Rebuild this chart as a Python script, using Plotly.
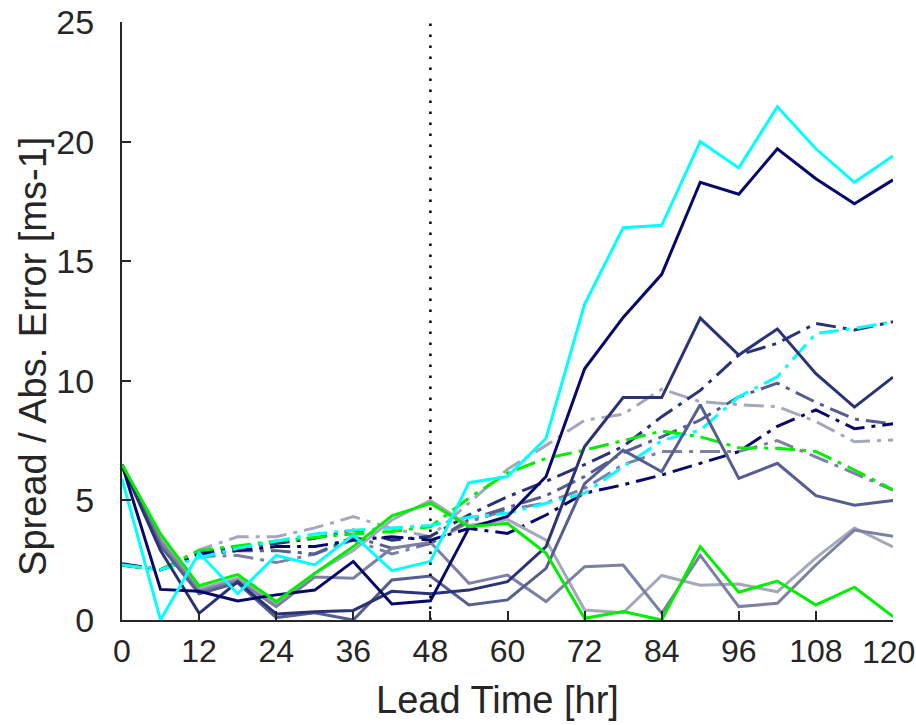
import plotly.graph_objects as go

lead_time = list(range(0, 121, 6))
x_ticks = [0, 12, 24, 36, 48, 60, 72, 84, 96, 108, 120]
y_ticks = [0, 5, 10, 15, 20, 25]
ref_time = 48

# Absolute errors (solid lines)
cyan_err = [5.9, 0.0, 2.8, 1.1, 2.7, 2.3, 3.55, 2.06, 2.45, 5.74, 6.0, 7.6, 13.2, 16.4, 16.5, 20.0, 18.9, 21.46, 19.7, 18.3, 19.4]
navy_err = [6.5, 1.28, 1.2, 0.8, 1.05, 1.25, 2.45, 0.67, 0.8, 3.85, 4.33, 6.0, 10.5, 12.65, 14.45, 18.3, 17.8, 19.7, 18.45, 17.4, 18.4]
darkslate_err = [6.5, 2.9, 0.28, 1.6, 0.25, 0.35, 0.4, 1.2, 1.1, 1.25, 1.6, 3.07, 7.25, 9.3, 9.3, 12.62, 11.08, 12.17, 10.3, 8.9, 10.15]
slate_err = [6.5, 3.1, 1.1, 1.55, 0.1, 0.3, 0.0, 1.67, 1.84, 0.63, 0.84, 2.16, 5.7, 7.1, 6.2, 9.0, 5.92, 6.55, 5.2, 4.8, 5.0]
greyblue_err = [6.5, 3.3, 1.2, 1.65, 0.56, 1.8, 1.75, 3.0, 3.25, 1.53, 1.88, 0.77, 2.23, 2.3, 0.28, 2.7, 0.56, 0.7, 2.3, 3.76, 3.5]
lightgrey_err = [6.5, 3.5, 1.3, 1.75, 0.7, 1.95, 2.9, 4.18, 5.0, 3.95, 4.2, 3.34, 0.42, 0.3, 1.86, 1.45, 1.5, 1.18, 2.6, 3.85, 3.06]
green_err = [6.5, 3.6, 1.43, 1.9, 0.77, 1.95, 3.07, 4.35, 4.88, 3.9, 4.04, 2.79, 0.07, 0.35, 0.0, 3.07, 1.16, 1.63, 0.63, 1.37, 0.14]

# Ensemble spread (dash-dot lines)
cyan_spr = [2.3, 2.1, 2.6, 3.0, 3.3, 3.6, 3.75, 3.85, 3.95, 4.3, 4.46, 4.88, 5.3, 6.4, 7.5, 7.94, 9.33, 10.17, 11.98, 12.19, 12.47]
navy_spr = [2.35, 2.1, 2.75, 2.9, 3.07, 3.07, 3.34, 3.48, 3.34, 3.83, 3.62, 4.39, 5.3, 5.65, 6.06, 6.55, 7.04, 8.1, 8.78, 8.0, 8.2]
darkslate_spr = [2.3, 2.1, 2.8, 3.05, 3.2, 3.42, 3.76, 3.34, 3.5, 4.4, 5.15, 5.8, 6.5, 7.25, 8.5, 9.6, 11.08, 11.57, 12.4, 12.12, 12.47]
slate_spr = [2.3, 2.1, 2.7, 2.9, 2.9, 2.76, 3.48, 3.0, 3.2, 4.2, 4.7, 5.2, 6.0, 7.0, 7.66, 8.36, 9.33, 9.9, 9.1, 8.4, 8.2]
greyblue_spr = [2.3, 2.1, 2.65, 2.7, 2.4, 2.76, 3.34, 2.76, 3.2, 4.1, 4.6, 4.9, 5.5, 6.5, 7.04, 7.04, 7.04, 7.5, 6.83, 6.13, 5.43]
lightgrey_spr = [2.3, 2.1, 2.93, 3.48, 3.48, 3.85, 4.32, 3.83, 3.48, 4.9, 6.3, 7.3, 8.35, 8.6, 9.65, 9.13, 9.0, 8.92, 8.3, 7.45, 7.53]
green_spr = [2.3, 2.1, 2.9, 3.1, 3.3, 3.45, 3.6, 3.7, 3.9, 5.1, 6.14, 6.76, 7.1, 7.5, 7.9, 7.66, 7.2, 7.18, 7.05, 6.27, 5.45]

series_colors = {
    "cyan": "#00FFFF",
    "navy": "#06096B",
    "darkslate": "#2B3378",
    "slate": "#565E8F",
    "greyblue": "#7C81A3",
    "lightgrey": "#A5A7BA",
    "green": "#00EE00",
}

errors = {
    "cyan": cyan_err, "navy": navy_err, "darkslate": darkslate_err, "slate": slate_err,
    "greyblue": greyblue_err, "lightgrey": lightgrey_err, "green": green_err,
}
spreads = {
    "cyan": cyan_spr, "navy": navy_spr, "darkslate": darkslate_spr, "slate": slate_spr,
    "greyblue": greyblue_spr, "lightgrey": lightgrey_spr, "green": green_spr,
}

fig = go.Figure()
order = ["lightgrey", "greyblue", "slate", "darkslate", "navy", "green", "cyan"]
for name in order:
    fig.add_trace(go.Scatter(x=lead_time, y=spreads[name], mode="lines",
                             line=dict(color=series_colors[name], width=3, dash="20px,7px,4px,7px"),
                             showlegend=False, name=name + " spread"))
for name in order:
    fig.add_trace(go.Scatter(x=lead_time, y=errors[name], mode="lines",
                             line=dict(color=series_colors[name], width=3),
                             showlegend=False, name=name + " error"))

fig.add_trace(go.Scatter(x=[ref_time, ref_time], y=[0, 25], mode="lines",
                         line=dict(color="black", width=2.5, dash="2.5px,8.5px"),
                         showlegend=False, hoverinfo="skip"))

axis_color = "#262626"
font_family = "Liberation Sans, Arial, Helvetica, sans-serif"

# the last x tick label sits at the page edge; draw it as a right-anchored annotation at x=120
x_ticktext = [str(v) for v in x_ticks]
last_label = x_ticktext[-1]
x_ticktext[-1] = ""

fig.update_layout(
    width=916, height=725,
    margin=dict(l=122, r=23, t=22, b=105),
    paper_bgcolor="white", plot_bgcolor="white",
    font=dict(family=font_family, color=axis_color, size=34),
    xaxis=dict(
        range=[0, 120], tickvals=x_ticks, ticktext=x_ticktext,
        showgrid=False, zeroline=False, showline=True, linecolor=axis_color, linewidth=2,
        ticks="inside", ticklen=9, tickwidth=2, tickcolor=axis_color,
        tickfont=dict(size=32, family=font_family, color=axis_color),
        ticklabelstandoff=2, ticklabeloverflow="allow", automargin=False,
    ),
    yaxis=dict(
        range=[0, 25], tickvals=y_ticks, ticktext=[str(v) for v in y_ticks],
        showgrid=False, zeroline=False, showline=True, linecolor=axis_color, linewidth=2,
        ticks="inside", ticklen=9, tickwidth=2, tickcolor=axis_color,
        tickfont=dict(size=34, family=font_family, color=axis_color),
        ticklabelstandoff=19, ticklabeloverflow="allow", automargin=False,
    ),
    annotations=[
        dict(text=last_label, xref="x", yref="paper", x=x_ticks[-1], y=-0.0535,
             xanchor="right", yanchor="middle", xshift=23, showarrow=False, borderpad=0,
             font=dict(size=32, family=font_family, color=axis_color)),
        dict(text="Lead Time [hr]", xref="paper", yref="paper", x=0.4864, y=-0.1338,
             xanchor="center", yanchor="middle", showarrow=False,
             font=dict(size=38, family=font_family, color=axis_color)),
        dict(text="Spread / Abs. Error [ms-1]", xref="paper", yref="paper", x=-0.1154, y=0.44,
             xanchor="center", yanchor="middle", showarrow=False, textangle=-90,
             font=dict(size=38, family=font_family, color=axis_color)),
    ],
)

fig.write_html("out.html")
